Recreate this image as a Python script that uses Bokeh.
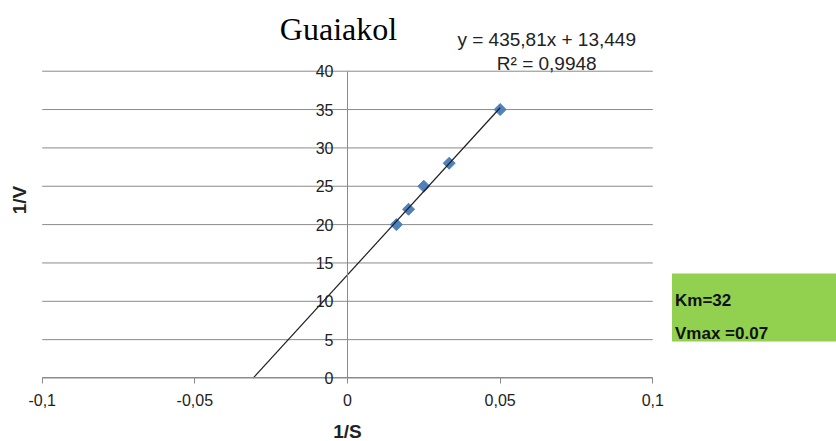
from bokeh.plotting import figure
from bokeh.models import Range1d, FixedTicker, CustomJSTickFormatter
from bokeh.core.properties import value
from bokeh.embed import file_html
from bokeh.resources import INLINE

# ---- data ----
inv_s = [0.016, 0.02, 0.025, 0.0333, 0.05]
inv_v = [20, 22, 25, 28, 35]
slope = 435.81
intercept = 13.449
x_ticks = [-0.1, -0.05, 0, 0.05, 0.1]
y_ticks = [0, 5, 10, 15, 20, 25, 30, 35, 40]
title_text = "Guaiakol"
eq_lines = ["y = 435,81x + 13,449", "R\u00b2 = 0,9948"]
box_lines = ["Km=32", "Vmax =0.07"]

SANS = value("Liberation Sans")
GRID = "#8a8a8a"
TXT = "#222222"

p = figure(width=836, height=441,
           x_range=Range1d(-0.11366, 0.16017), y_range=Range1d(-8.28, 49.22),
           output_backend="svg", toolbar_location=None, min_border=0,
           x_axis_location="below", y_axis_location="left")
p.outline_line_color = None
p.xgrid.visible = False
p.ygrid.visible = False
p.background_fill_color = "white"
p.border_fill_color = "white"

fmt = CustomJSTickFormatter(code="return tick.toString().replace('.', ',');")

# x axis at y = 0
xa = p.xaxis[0]
xa.fixed_location = 0
xa.bounds = (x_ticks[0], x_ticks[-1])
xa.ticker = FixedTicker(ticks=x_ticks)
xa.formatter = fmt
xa.axis_line_color = GRID
xa.major_tick_line_color = GRID
xa.major_tick_out = 6
xa.major_tick_in = 0
xa.minor_tick_line_color = None
xa.major_label_text_font = "Liberation Sans"
xa.major_label_text_font_size = "16px"
xa.major_label_text_color = TXT
xa.major_label_standoff = 10

# y axis at x = 0
ya = p.yaxis[0]
ya.fixed_location = 0
ya.bounds = (y_ticks[0], y_ticks[-1])
ya.ticker = FixedTicker(ticks=y_ticks)
ya.formatter = fmt
ya.axis_line_color = GRID
ya.major_tick_line_color = None
ya.major_tick_out = 0
ya.major_tick_in = 0
ya.minor_tick_line_color = None
ya.major_label_text_font = "Liberation Sans"
ya.major_label_text_font_size = "16px"
ya.major_label_text_color = TXT
ya.major_label_standoff = 14

# horizontal gridlines
p.segment(x0=[x_ticks[0]] * len(y_ticks), x1=[x_ticks[-1]] * len(y_ticks),
          y0=y_ticks, y1=y_ticks, line_color=GRID, line_width=1)

# data points
p.scatter(inv_s, inv_v, marker="square", angle=0.7854, size=8.5,
          fill_color="#4F81BD", line_color="#4F81BD")

# trend line (drawn over the markers)
x_start = -intercept / slope
x_end = max(inv_s)
p.line([x_start, x_end], [slope * x_start + intercept, slope * x_end + intercept],
       line_color="#1e1e1e", line_width=1.2)

# title
p.text(x=[-0.00295], y=[45.44], text=[title_text], text_font=value("Liberation Serif"),
       text_font_size="32px", text_color="black", text_align="center",
       text_baseline="alphabetic")

# trendline equation
p.text(x=[0.06525, 0.06525], y=[44.13, 41.0], text=eq_lines, text_font=SANS,
       text_font_size="19px", text_color=TXT, text_align="center",
       text_baseline="alphabetic")

# axis titles
p.text(x=[-0.10745], y=[23.2], text=["1/V"], text_font=SANS, text_font_style="bold",
       text_font_size="19px", text_color=TXT, text_align="center",
       text_baseline="middle", angle=1.5708)
p.text(x=[0.0], y=[-7.04], text=["1/S"], text_font=SANS, text_font_style="bold",
       text_font_size="19px", text_color=TXT, text_align="center",
       text_baseline="alphabetic")

# green result box
p.quad(left=[0.10629], right=[0.17], bottom=[4.76], top=[13.62],
       fill_color="#92D050", line_color=None)
p.text(x=[0.10727, 0.10727], y=[10.10, 5.76], text=box_lines,
       text_font=SANS, text_font_style="bold", text_font_size="17px",
       text_color="#111111", text_align="left", text_baseline="alphabetic")

open("out.html", "w").write(file_html(p, INLINE))
